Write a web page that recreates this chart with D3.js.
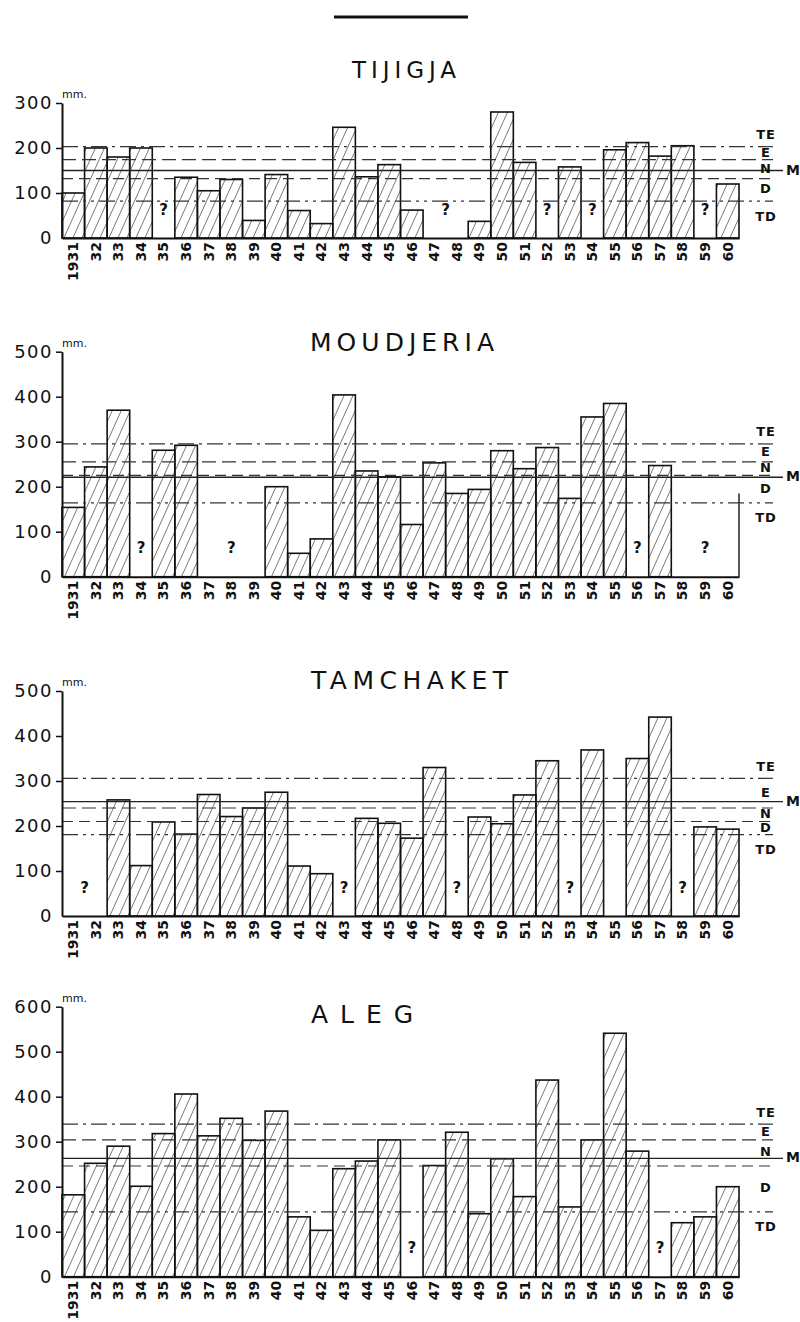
<!DOCTYPE html>
<html>
<head>
<meta charset="utf-8">
<script src="https://cdn.jsdelivr.net/npm/d3@7"></script>
<style>
  body { margin: 0; background: #fff; }
  text { font-family: "DejaVu Sans", sans-serif; fill: #111; }
</style>
</head>
<body>
<div id="chart"></div>
<script>
// years on the x axis
const years = [1931, 1932, 1933, 1934, 1935, 1936, 1937, 1938, 1939, 1940,
               1941, 1942, 1943, 1944, 1945, 1946, 1947, 1948, 1949, 1950,
               1951, 1952, 1953, 1954, 1955, 1956, 1957, 1958, 1959, 1960];

// yearly rainfall, mm (null = no data)
const tijigja = [100, 200, 180, 200, null, 135, 105, 130, 39, 141,
                 61, 32, 246, 136, 163, 62, null, null, 37, 280,
                 168, null, 158, null, 196, 212, 182, 205, null, 120];
const moudjeria = [154, 244, 370, null, 281, 292, null, null, null, 200,
                   52, 84, 404, 235, 222, 116, 253, 185, 194, 280,
                   240, 287, 174, 355, 385, null, 247, null, null, null];
const tamchaket = [null, null, 258, 112, 209, 182, 270, 221, 240, 275,
                   111, 94, null, 217, 206, 173, 330, null, 220, 205,
                   269, 345, null, 369, null, 350, 442, null, 198, 193];
const aleg = [182, 252, 290, 201, 318, 406, 313, 352, 303, 368,
              133, 103, 240, 257, 304, null, 247, 321, 140, 262,
              178, 437, 155, 304, 541, 279, null, 120, 133, 200];

// "?" marks: year spans with missing data
const tijigjaMissing = [[1935, 1935], [1947, 1948], [1952, 1952], [1954, 1954], [1959, 1959]];
const moudjeriaMissing = [[1934, 1934], [1937, 1939], [1956, 1956], [1958, 1960]];
const tamchaketMissing = [[1931, 1932], [1943, 1943], [1948, 1948], [1953, 1953], [1958, 1958]];
const alegMissing = [[1946, 1946], [1957, 1957]];

// class limits TE / E / N / D and mean M, mm
const levelNames = ["TE", "E", "N", "D"];
const tijigjaLevels = [203, 174, 132, 82];
const moudjeriaLevels = [295, 255, 225, 164];
const tamchaketLevels = [306, 240, 210, 181];
const alegLevels = [339, 304, 246, 144];
const tijigjaMean = 150;
const moudjeriaMean = 221;
const tamchaketMean = 254;
const alegMean = 263;

const tijigjaTicks = [0, 100, 200, 300];
const moudjeriaTicks = [0, 100, 200, 300, 400, 500];
const tamchaketTicks = [0, 100, 200, 300, 400, 500];
const alegTicks = [0, 100, 200, 300, 400, 500, 600];

const moudjeriaEdge = 185;

const pxPerMm = 0.45;

const panels = [
    { name: "TIJIGJA", values: tijigja, missing: tijigjaMissing, levels: tijigjaLevels, mean: tijigjaMean,
      ticks: tijigjaTicks, base: 238, titleX: 352, titleY: 78, titleLen: 104, titleSize: 23 },
    { name: "MOUDJERIA", values: moudjeria, missing: moudjeriaMissing, levels: moudjeriaLevels, mean: moudjeriaMean,
      ticks: moudjeriaTicks, base: 576.7, titleX: 310, titleY: 351, titleLen: 184, titleSize: 25, edge: moudjeriaEdge },
    { name: "TAMCHAKET", values: tamchaket, missing: tamchaketMissing, levels: tamchaketLevels, mean: tamchaketMean,
      ticks: tamchaketTicks, base: 916, titleX: 311, titleY: 689, titleLen: 197, titleSize: 25 },
    { name: "ALEG", values: aleg, missing: alegMissing, levels: alegLevels, mean: alegMean,
      ticks: alegTicks, base: 1276.7, titleX: 311, titleY: 1023, titleLen: 102, titleSize: 25 }
];

const svg = d3.select("#chart")
    .append("svg")
    .attr("width", 800)
    .attr("height", 1322);

// diagonal hatching for the bars
const pat = svg.append("defs").append("pattern")
    .attr("id", "hatch")
    .attr("patternUnits", "userSpaceOnUse")
    .attr("width", 9)
    .attr("height", 20);
pat.append("path")
    .attr("d", "M0,20 L9,0 M-9,20 L0,0 M9,20 L18,0")
    .attr("stroke", "#555")
    .attr("stroke-width", 0.8);

// rule at the top of the page
svg.append("line")
    .attr("x1", 334).attr("x2", 468)
    .attr("y1", 17).attr("y2", 17)
    .attr("stroke", "#111")
    .attr("stroke-width", 3);

const x = d3.scaleBand()
    .domain(years)
    .range([62, 739])
    .padding(0);

const dashes = ["16,5,3,5", "14,6", "11,6", "16,5,3,5,3,5"];

panels.forEach(p => {
    const top = d3.max(p.ticks);
    const y = d3.scaleLinear()
        .domain([0, top])
        .range([p.base, p.base - top * pxPerMm]);

    const g = svg.append("g");

    // title
    g.append("text")
        .attr("x", p.titleX)
        .attr("y", p.titleY)
        .attr("textLength", p.titleLen)
        .attr("lengthAdjust", "spacing")
        .style("font-size", p.titleSize + "px")
        .text(p.name);

    // bars
    const rows = years.map((yr, i) => ({ yr: yr, v: p.values[i] })).filter(d => d.v != null);
    g.selectAll("rect.bar")
        .data(rows)
        .join("rect")
        .attr("class", "bar")
        .attr("x", d => x(d.yr))
        .attr("y", d => y(d.v))
        .attr("width", x.bandwidth())
        .attr("height", d => y(0) - y(d.v))
        .attr("fill", "url(#hatch)")
        .attr("stroke", "#111")
        .attr("stroke-width", 1.6);

    if (p.edge) {
        g.append("line")
            .attr("x1", x.range()[1]).attr("x2", x.range()[1])
            .attr("y1", y(0)).attr("y2", y(p.edge))
            .attr("stroke", "#111")
            .attr("stroke-width", 1.4);
    }

    // class limit lines
    p.levels.forEach((lv, i) => {
        g.append("line")
            .attr("x1", 62).attr("x2", 773)
            .attr("y1", y(lv)).attr("y2", y(lv))
            .attr("stroke", "#333")
            .attr("stroke-width", 1.2)
            .attr("stroke-dasharray", dashes[i]);
    });
    g.append("line")
        .attr("x1", 62).attr("x2", 783)
        .attr("y1", y(p.mean)).attr("y2", y(p.mean))
        .attr("stroke", "#222")
        .attr("stroke-width", 1.3);

    // class labels
    const yl = p.levels.map(v => y(v));
    const labelY = [yl[0] - 11, (yl[0] + yl[1]) / 2, (yl[1] + yl[2]) / 2, (yl[2] + yl[3]) / 2, yl[3] + 16];
    levelNames.concat(["TD"]).forEach((nm, i) => {
        g.append("text")
            .attr("x", 766)
            .attr("y", labelY[i])
            .attr("text-anchor", "middle")
            .attr("dominant-baseline", "middle")
            .style("font-size", "13px")
            .style("font-weight", "bold")
            .style("letter-spacing", "1px")
            .text(nm);
    });
    g.append("text")
        .attr("x", 786)
        .attr("y", y(p.mean))
        .attr("dominant-baseline", "middle")
        .style("font-size", "14px")
        .style("font-weight", "bold")
        .text("M");

    // missing-year marks
    g.selectAll("text.q")
        .data(p.missing)
        .join("text")
        .attr("class", "q")
        .attr("x", d => (x(d[0]) + x(d[1]) + x.bandwidth()) / 2)
        .attr("y", p.base - 28)
        .attr("text-anchor", "middle")
        .attr("dominant-baseline", "middle")
        .style("font-size", "15px")
        .style("font-weight", "bold")
        .text("?");

    // y axis
    const yAxis = g.append("g")
        .attr("transform", "translate(62,0)")
        .call(d3.axisLeft(y).tickValues(p.ticks).tickSize(6).tickSizeOuter(0).tickPadding(3).tickFormat(d3.format("d")));
    yAxis.select(".domain").attr("stroke", "#111").attr("stroke-width", 2);
    yAxis.selectAll(".tick line").attr("stroke", "#111").attr("stroke-width", 1.5);
    yAxis.selectAll(".tick text")
        .style("font-size", "18px")
        .style("letter-spacing", "1.5px")
        .attr("fill", "#111");
    yAxis.selectAll(".tick").filter(d => d === 0).select("line").remove();

    g.append("text")
        .attr("x", 62)
        .attr("y", y(top) - 5)
        .style("font-size", "11px")
        .text("mm.");

    // x axis with year labels
    const xAxis = g.append("g")
        .attr("transform", `translate(0,${p.base})`)
        .call(d3.axisBottom(x).tickSize(0).tickSizeOuter(0)
            .tickFormat(yr => yr === 1931 ? "1931" : String(yr).slice(2)));
    xAxis.select(".domain").attr("stroke", "#111").attr("stroke-width", 2);
    xAxis.selectAll(".tick text")
        .attr("transform", "rotate(-90)")
        .attr("text-anchor", "end")
        .attr("x", -4)
        .attr("y", 0)
        .attr("dy", "0.35em")
        .attr("fill", "#111")
        .style("font-size", "14px")
        .style("font-weight", "bold");
});
</script>
</body>
</html>
